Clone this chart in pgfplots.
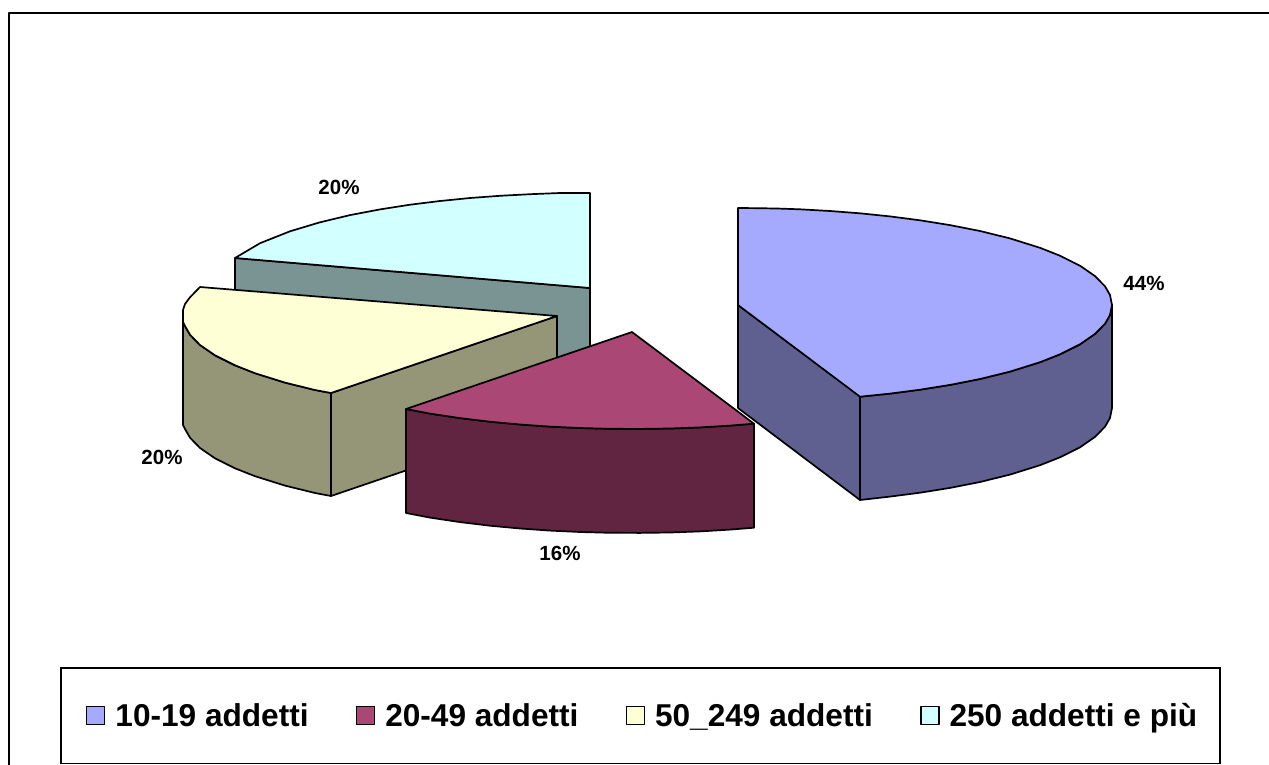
\documentclass[border=0pt]{standalone}
\usepackage{pgfplots}
\pgfplotsset{compat=1.18}
\usepackage{fontspec}
\setmainfont{Liberation Sans}
\definecolor{blueT}{HTML}{A6AAFF}
\definecolor{blueS}{HTML}{5F6090}
\definecolor{redT}{HTML}{AB4774}
\definecolor{redS}{HTML}{612541}
\definecolor{yelT}{HTML}{FFFFD6}
\definecolor{yelS}{HTML}{959578}
\definecolor{cyaT}{HTML}{D2FFFF}
\definecolor{cyaS}{HTML}{7A9494}
\begin{document}
\begin{tikzpicture}
\path[use as bounding box] (0pt,0pt) rectangle (1269pt,764pt);
\begin{axis}[
  at={(0pt,0pt)}, anchor=south west,
  scale only axis, width=1269pt, height=764pt,
  xmin=0, xmax=1269, ymin=0, ymax=764, y dir=reverse,
  hide axis,
  legend columns=-1,
  legend image code/.code={\path (-4pt,0pt); \draw[#1,line width=1.6pt] (0pt,-9pt) rectangle (18pt,9pt);},
  legend style={at={(axis cs:60,667)}, anchor=north west, draw=black, line width=1.6pt,
    font=\bfseries\fontsize{31.6}{36}\selectfont,
    inner xsep=21pt, inner ysep=33.5pt,
    /tikz/every even column/.append style={column sep=41pt},
    /tikz/every odd column/.append style={column sep=8pt},
    cells={anchor=west},
    legend cell align=left},
  every axis plot/.append style={line width=1.7pt, draw=black, line join=round, forget plot},
]
% legend
\addlegendimage{fill=blueT,draw=black}\addlegendentry{10-19 addetti}
\addlegendimage{fill=redT,draw=black}\addlegendentry{20-49 addetti}
\addlegendimage{fill=yelT,draw=black}\addlegendentry{50\_249 addetti}
\addlegendimage{fill=cyaT,draw=black}\addlegendentry{250 addetti e più}
% outer frame
\addplot[fill=none,line width=1.8pt] coordinates {(8.7,770) (8.7,13.3) (1275,13.3)};
% cyan slice
\addplot[fill=cyaS] coordinates {(235,258) (590,288) (590,391) (235,361)} -- cycle;
\addplot[fill=cyaT] coordinates {(590,288) (590,193) (560,193) (530,194.2) (500,195.8) (470,198) (440,201) (410,204.7) (380,209.4) (350,215.1) (320,222.3) (290,231.3) (260,243.2) (235,258)} -- cycle;
% yellow slice
\addplot[fill=yelS] coordinates {(557,316) (557,419) (331,496) (331,393)} -- cycle;
\addplot[fill=yelS] coordinates {(183,322) (185,326) (190,334.7) (200,345) (215,355.3) (235,365.3) (255,373.2) (285,382.6) (315,390) (331,393) (331,496) (315,493) (285,485.6) (255,476.2) (235,468.3) (215,458.3) (200,448) (190,437.7) (185,429) (183,425)} -- cycle;
\addplot[fill=yelT] coordinates {(557,316) (200,287) (190,297.3) (185,304) (183,310) (183,322) (185,326) (190,334.7) (200,345) (215,355.3) (235,365.3) (255,373.2) (285,382.6) (315,390) (331,393)} -- cycle;
% blue slice
\addplot[fill=blueS] coordinates {(738,305) (860,396) (860,500) (738,408)} -- cycle;
\addplot[fill=blueS] coordinates {(860,396.7) (890,393.6) (920,389.7) (950,384.9) (980,379) (1010,371.6) (1040,362.2) (1060,354.3) (1080,344.3) (1095,333.9) (1105,323.7) (1110,315) (1112,305) (1112,408) (1110,418) (1105,426.7) (1095,436.9) (1080,447.3) (1060,457.3) (1040,465.2) (1010,474.6) (980,482) (950,487.9) (920,492.7) (890,496.6) (860,500)} -- cycle;
\addplot[fill=blueT] coordinates {(738,305) (738,208) (760,208.2) (780,208.6) (800,209.3) (830,211) (860,213.3) (890,216.4) (920,220.3) (950,225.1) (980,231) (1010,238.4) (1040,247.8) (1060,255.7) (1080,265.7) (1095,276.1) (1105,286.3) (1110,295) (1112,305) (1110,315) (1105,323.7) (1095,333.9) (1080,344.3) (1060,354.3) (1040,362.2) (1010,371.6) (980,379) (950,384.9) (920,389.7) (890,393.6) (860,396.7)} -- cycle;
% crimson slice
\addplot[fill=redS] coordinates {(406,409) (430,413.6) (460,418.1) (490,421.7) (520,424.5) (550,426.6) (580,428) (610,428.8) (640,428.9) (670,428.5) (700,427.4) (730,425.6) (754,423.7) (754,527.7) (730,529.6) (700,531.4) (670,532.5) (640,532.9) (610,532.8) (580,532) (550,530.6) (520,528.5) (490,525.7) (460,522.1) (430,517.6) (406,513)} -- cycle;
\addplot[fill=redT] coordinates {(632,332) (406,409) (430,413.6) (460,418.1) (490,421.7) (520,424.5) (550,426.6) (580,428) (610,428.8) (640,428.9) (670,428.5) (700,427.4) (730,425.6) (754,423.7)} -- cycle;
% data labels
\node[font=\bfseries\fontsize{20.5}{22}\selectfont] at (axis cs:339,187) {20\%};
\node[font=\bfseries\fontsize{20.5}{22}\selectfont] at (axis cs:1144,283) {44\%};
\node[font=\bfseries\fontsize{20.5}{22}\selectfont] at (axis cs:162,457) {20\%};
\node[font=\bfseries\fontsize{20.5}{22}\selectfont] at (axis cs:560,553) {16\%};
\end{axis}
\end{tikzpicture}
\end{document}
